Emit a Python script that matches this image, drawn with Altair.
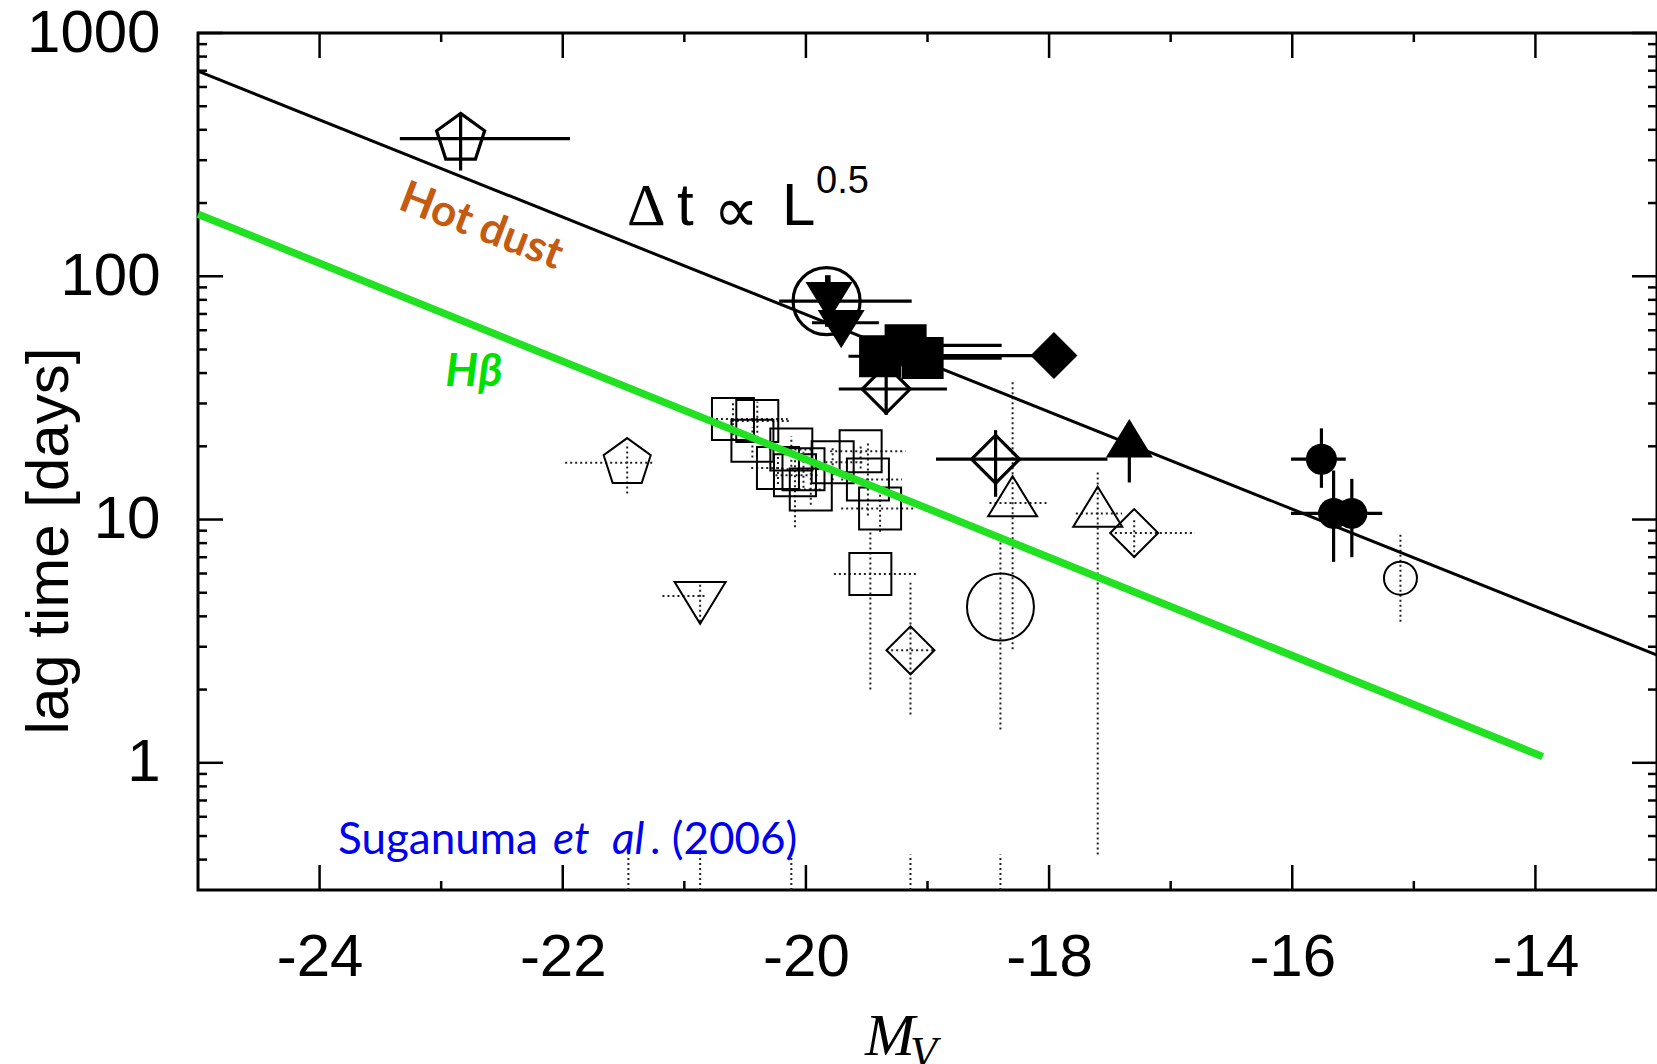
import altair as alt
import pandas as pd

# ---------------- data ----------------
# Hot-dust (V-K) lags, solid error bars
dust_obj = ["A", "B", "C", "C", "D", "D", "D", "E", "F", "F", "G", "H", "H", "H"]
dust_mv = [-22.84, -19.83, -19.81, -19.71, -19.39, -19.18, -19.04, -17.96,
           -19.34, -18.44, -17.34, -15.76, -15.66, -15.51]
dust_lag = [368, 79, 84, 64.4, 46.9, 52.0, 46.1, 47.2, 34.4, 17.7, 20.3, 17.7, 10.6, 10.6]
dust_mv_lo = [-23.34, -20.22, -19.81, -19.95, -19.65, -19.45, -19.30, -18.90,
              -19.73, -18.93, -17.34, -16.01, -16.01, -15.60]
dust_mv_hi = [-21.94, -19.13, -19.81, -19.40, -19.20, -18.39, -18.39, -17.96,
              -18.84, -17.52, -17.34, -15.56, -15.60, -15.26]
dust_lag_lo = [272, 62, 66, 57, 43, 48, 42, 44, 26.9, 12.4, 14.2, 13.5, 6.7, 7.0]
dust_lag_hi = [467, 101, 101, 72, 51, 56, 50, 50, 42.6, 23.3, 22.0, 23.7, 15.9, 14.7]

# H-beta lags, dotted error bars
hb_obj = ["a", "b"] + ["c"] * 13 + ["d", "e", "f", "f", "d", "g"]
hb_mv = [-21.47, -20.87, -20.60, -20.40, -20.44, -20.12, -20.23, -20.09, -20.02,
         -19.96, -19.78, -19.55, -19.49, -19.39, -19.47, -19.14, -18.40, -18.30,
         -17.60, -17.30, -15.11]
hb_lag = [17.1, 4.85, 25.9, 25.4, 21.1, 19.4, 16.3, 15.2, 16.1, 13.3, 17.2, 19.1,
          14.6, 11.1, 5.97, 2.9, 4.37, 11.7, 10.6, 8.8, 5.74]
hb_mv_lo = [-21.98, -21.18, -20.74, -20.61, -20.55, -20.30, -20.45, -20.25, -20.20,
            -20.10, -19.84, -19.80, -19.71, -19.71, -19.77, -19.34, -18.40, -18.49,
            -17.78, -17.50, -15.11]
hb_mv_hi = [-21.24, -20.81, -20.15, -20.14, -20.30, -19.95, -20.19, -19.90, -19.85,
            -19.85, -19.51, -19.18, -19.21, -19.10, -19.08, -18.93, -18.40, -18.00,
            -17.40, -16.80, -15.11]
hb_lag_lo = [12.8, 3.8, 21.2, 20.7, 18.0, 16.5, 14.0, 9.3, 13.5, 11.5, 14.5, 16.2,
             10.4, 8.9, 2.0, 1.58, 1.37, 2.93, 0.42, 7.0, 3.8]
hb_lag_hi = [20.6, 5.4, 30.5, 30.5, 24.0, 22.0, 18.5, 18.0, 19.0, 15.5, 20.0, 20.3,
             20.6, 13.5, 9.0, 5.5, 8.5, 37.5, 15.7, 10.2, 8.9]

# lower error bars running off the bottom of the log axis
stub_mv = [-21.46, -20.87, -20.12, -19.14, -18.40]
stub_lag_lo = [0.3, 0.3, 0.3, 0.3, 0.3]
stub_lag_hi = [0.42, 0.42, 0.42, 0.42, 0.42]

# Delta t ~ L^0.5 relations
dust_line_mv = [-25, -13]
dust_line_lag = [697, 2.77]
hb_line_mv = [-25, -13.94]
hb_line_lag = [180, 1.06]

# axis ticks
x_major = [-24, -22, -20, -18, -16, -14]
x_minor = [-23, -21, -19, -17, -15]
y_major = [1, 10, 100, 1000]
y_minor = [0.4, 0.5, 0.6, 0.7, 0.8, 0.9, 2, 3, 4, 5, 6, 7, 8, 9,
           20, 30, 40, 50, 60, 70, 80, 90, 200, 300, 400, 500, 600, 700, 800, 900]

# ---------------- layout / style ----------------
W, H = 1459, 857
PAD_L, PAD_T = 198, 33
PENTAGON = "M0,-1L0.951,-0.309L0.588,0.809L-0.588,0.809L-0.951,-0.309Z"
# triangles centred on their centroid
TRI_UP = "M0,-1.09L1,0.545L-1,0.545Z"
TRI_DOWN = "M0,1.09L1,-0.545L-1,-0.545Z"

dust_style = {
    "A": (PENTAGON, False, 2550),
    "B": ("circle", False, 4489),
    "C": (TRI_DOWN, True, 2209),
    "D": ("square", True, 1764),
    "E": ("diamond", True, 2209),
    "F": ("diamond", False, 2304),
    "G": (TRI_UP, True, 2209),
    "H": ("circle", True, 961),
}
hb_style = {
    "a": (PENTAGON, 2450),
    "b": (TRI_DOWN, 2601),
    "c": ("square", 1764),
    "d": ("diamond", 2304),
    "e": ("circle", 4489),
    "f": (TRI_UP, 2401),
    "g": ("circle", 1089),
}

xs = alt.Scale(domain=[-25, -13], nice=False, zero=False)
ys = alt.Scale(type="log", domain=[0.3, 1000], nice=False)

x_axis = alt.Axis(values=x_major, labelExpr="'-' + abs(datum.value)",
                  labelFont="Liberation Sans", labelFontSize=60, labelColor="black",
                  labelPadding=85, labelBaseline="alphabetic", labelFlush=False,
                  labelOverlap=False, ticks=False, tickSize=0, domain=False,
                  grid=False, title=None)
y_axis = alt.Axis(values=y_major, format="d",
                  labelFont="Liberation Sans", labelFontSize=60, labelColor="black",
                  labelPadding=38, labelBaseline="middle", labelFlush=False,
                  labelOverlap=False, ticks=False, tickSize=0, domain=False,
                  grid=False, title=None)


def xq(field):
    return alt.X(f"{field}:Q", scale=xs, axis=x_axis)


def yq(field):
    return alt.Y(f"{field}:Q", scale=ys, axis=y_axis)


dust = pd.DataFrame({"obj": dust_obj, "mv": dust_mv, "lag": dust_lag,
                     "mv_lo": dust_mv_lo, "mv_hi": dust_mv_hi,
                     "lag_lo": dust_lag_lo, "lag_hi": dust_lag_hi})
hb = pd.DataFrame({"obj": hb_obj, "mv": hb_mv, "lag": hb_lag,
                   "mv_lo": hb_mv_lo, "mv_hi": hb_mv_hi,
                   "lag_lo": hb_lag_lo, "lag_hi": hb_lag_hi})
stubs = pd.DataFrame({"mv": stub_mv, "lo": stub_lag_lo, "hi": stub_lag_hi})

layers = []

# H-beta dotted error bars
hb_base = alt.Chart(hb)
dot_kw = dict(color="#222222", strokeWidth=2, strokeDash=[2, 3])
layers.append(hb_base.mark_rule(**dot_kw).encode(x=xq("mv_lo"), x2="mv_hi:Q", y=yq("lag")))
layers.append(hb_base.mark_rule(**dot_kw).encode(x=xq("mv"), y=yq("lag_lo"), y2="lag_hi:Q"))
layers.append(alt.Chart(stubs).mark_rule(**dot_kw).encode(x=xq("mv"), y=yq("lo"), y2="hi:Q"))

# H-beta symbols (open, thin)
for key, (shape, size) in hb_style.items():
    layers.append(hb_base.transform_filter(alt.datum.obj == key).mark_point(
        shape=shape, size=size, filled=False, stroke="black", strokeWidth=2,
        fillOpacity=0, opacity=1).encode(x=xq("mv"), y=yq("lag")))

# relations
layers.append(alt.Chart(pd.DataFrame({"mv": hb_line_mv, "lag": hb_line_lag}))
              .mark_line(color="#22e022", strokeWidth=7.5, strokeCap="butt")
              .encode(x=xq("mv"), y=yq("lag")))
layers.append(alt.Chart(pd.DataFrame({"mv": dust_line_mv, "lag": dust_line_lag}))
              .mark_line(color="black", strokeWidth=3)
              .encode(x=xq("mv"), y=yq("lag")))

# hot-dust solid error bars
dust_base = alt.Chart(dust)
layers.append(dust_base.mark_rule(color="black", strokeWidth=3.2).encode(
    x=xq("mv_lo"), x2="mv_hi:Q", y=yq("lag")))
layers.append(dust_base.mark_rule(color="black", strokeWidth=3.2).encode(
    x=xq("mv"), y=yq("lag_lo"), y2="lag_hi:Q"))

# hot-dust symbols
for key, (shape, filled, size) in dust_style.items():
    if filled:
        mk = dict(filled=True, color="black", opacity=1)
    else:
        mk = dict(filled=False, stroke="black", strokeWidth=3.2, fillOpacity=0, opacity=1)
    layers.append(dust_base.transform_filter(alt.datum.obj == key).mark_point(
        shape=shape, size=size, **mk).encode(x=xq("mv"), y=yq("lag")))

# inward ticks on all four sides
tick_kw = dict(color="black", strokeWidth=2.5)
for vals, length in ((x_major, 25), (x_minor, 9)):
    d = alt.Chart(pd.DataFrame({"mv": vals}))
    layers.append(d.mark_rule(**tick_kw).encode(x=xq("mv"), y=alt.value(H), y2=alt.value(H - length)))
    layers.append(d.mark_rule(**tick_kw).encode(x=xq("mv"), y=alt.value(0), y2=alt.value(length)))
for vals, length in ((y_major, 25), (y_minor, 9)):
    d = alt.Chart(pd.DataFrame({"lag": vals}))
    layers.append(d.mark_rule(**tick_kw).encode(y=yq("lag"), x=alt.value(0), x2=alt.value(length)))
    layers.append(d.mark_rule(**tick_kw).encode(y=yq("lag"), x=alt.value(W - length), x2=alt.value(W)))


def label(text, x, y, **kw):
    return alt.Chart(pd.DataFrame({"t": [text]})).mark_text(text=text, **kw).encode(
        x=alt.value(x), y=alt.value(y))


# axis titles
layers.append(label("lag time [days]", -148, 508, angle=270, font="Liberation Sans",
                    fontSize=60, align="center", baseline="middle", color="black"))
layers.append(label("M", 667, 1022, font="Liberation Serif", fontStyle="italic",
                    fontSize=60, align="left", baseline="alphabetic", color="black"))
layers.append(label("V", 712, 1034, font="Liberation Serif", fontStyle="italic",
                    fontSize=44, align="left", baseline="alphabetic", color="black"))

# relation annotation
layers.append(label("\u0394", 429, 192, font="Liberation Serif", fontSize=60,
                    align="left", baseline="alphabetic", color="black"))
layers.append(label("t", 479, 192, font="Liberation Sans", fontSize=60,
                    align="left", baseline="alphabetic", color="black"))
layers.append(label("\u221d", 538, 180, font="DejaVu Sans", fontSize=64,
                    align="center", baseline="middle", color="black"))
layers.append(label("L", 584, 192, font="Liberation Sans", fontSize=60,
                    align="left", baseline="alphabetic", color="black"))
layers.append(label("0.5", 618, 160, font="Liberation Sans", fontSize=38,
                    align="left", baseline="alphabetic", color="black"))

# line labels
layers.append(label("Hot dust", 283, 194, angle=21, font="Lato", fontWeight="bold",
                    fontSize=44, align="center", baseline="middle", color="#c55a11"))
layers.append(label("H\u03b2", 276, 339, font="Lato", fontWeight="bold", fontStyle="italic",
                    fontSize=46, align="center", baseline="middle", color="#00e000"))

# reference
ref_kw = dict(font="Lato", fontSize=44, align="left", baseline="alphabetic", color="#0000f0")
layers.append(label("Suganuma", 140, 821, **ref_kw))
layers.append(label("et", 355, 821, fontStyle="italic", **ref_kw))
layers.append(label("al", 414, 821, fontStyle="italic", **ref_kw))
layers.append(label(". (2006)", 452, 821, **ref_kw))

chart = alt.layer(*layers).properties(
    width=W, height=H,
    autosize=alt.AutoSizeParams(type="none"),
    padding={"left": PAD_L, "top": PAD_T, "right": 0, "bottom": 1064 - PAD_T - H},
    background="white",
).configure_view(stroke="black", strokeWidth=3)

chart.save("out.html", embed_options={"renderer": "svg", "actions": False})
